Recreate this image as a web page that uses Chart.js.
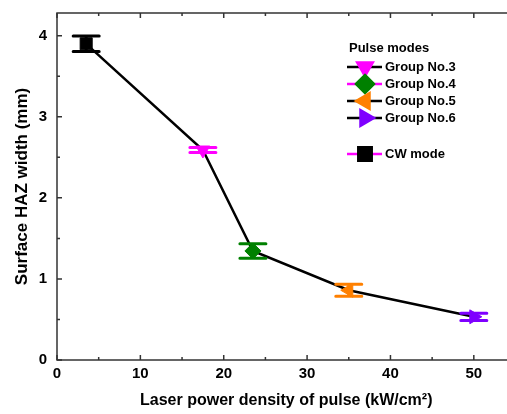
<!DOCTYPE html>
<html>
<head>
<meta charset="utf-8">
<script src="https://cdn.jsdelivr.net/npm/chart.js@4.4.1/dist/chart.umd.min.js"></script>
<style>
  html, body { margin: 0; padding: 0; background: #fff; overflow: hidden; }
  #wrap { width: 525px; height: 414px; }
</style>
</head>
<body>
<div id="wrap"><canvas id="hazChart"></canvas></div>
<script>
// --- data ---
const modeNames = ['CW mode', 'Group No.3', 'Group No.4', 'Group No.5', 'Group No.6'];
const powerDensity = [3.5, 17.5, 23.5, 35, 50];          // kW/cm^2
const hazWidth = [3.90, 2.59, 1.345, 0.86, 0.533];        // mm
const hazError = [0.095, 0.03, 0.09, 0.075, 0.045];       // mm
const markerColors = ['#000000', '#ff00ff', '#008000', '#ff8000', '#7f00ff'];
const markerStyles = ['rect', 'triangle', 'rectRot', 'triangle', 'triangle'];
const markerRotation = [0, 180, 0, -90, 90];
const markerRadius = [8.5, 8, 8, 8, 8];
const xTicks = [0, 10, 20, 30, 40, 50];
const yTicks = [0, 1, 2, 3, 4];
// legend order + line colour beside each marker
const legendOrder = [1, 2, 3, 4, 0];
const legendLineColors = ['#000000', '#ff00ff', '#000000', '#000000', '#ff00ff'];

const FONT = 'Liberation Sans, Arial, sans-serif';

// error bars (drawn with the chart scales)
const errorBars = {
    id: 'errorBars',
    afterDatasetsDraw(chart) {
        const ctx = chart.ctx;
        const xs = chart.scales.x, ys = chart.scales.y;
        ctx.save();
        ctx.lineWidth = 3;
        ctx.lineCap = 'round';
        powerDensity.forEach((x, i) => {
            const px = xs.getPixelForValue(x);
            const top = ys.getPixelForValue(hazWidth[i] + hazError[i]);
            const bot = ys.getPixelForValue(hazWidth[i] - hazError[i]);
            ctx.strokeStyle = markerColors[i];
            ctx.beginPath();
            ctx.moveTo(px, top); ctx.lineTo(px, bot);
            ctx.moveTo(px - 13, top); ctx.lineTo(px + 13, top);
            ctx.moveTo(px - 13, bot); ctx.lineTo(px + 13, bot);
            ctx.stroke();
        });
        ctx.restore();
    }
};

// frame with inward ticks on all sides
const frame = {
    id: 'frame',
    afterDraw(chart) {
        const ctx = chart.ctx;
        const a = chart.chartArea;
        const xs = chart.scales.x, ys = chart.scales.y;
        ctx.save();
        ctx.strokeStyle = '#333';
        ctx.lineWidth = 1.5;
        ctx.strokeRect(a.left, a.top, a.right - a.left, a.bottom - a.top);
        ctx.beginPath();
        for (let v = 0; v <= 55; v += 5) {
            const px = xs.getPixelForValue(v);
            const len = v % 10 === 0 ? 5 : 3;
            ctx.moveTo(px, a.bottom); ctx.lineTo(px, a.bottom - len);
            ctx.moveTo(px, a.top); ctx.lineTo(px, a.top + len);
        }
        for (let v = 0; v <= 4.25; v += 0.5) {
            const py = ys.getPixelForValue(v);
            const len = v % 1 === 0 ? 5 : 3;
            ctx.moveTo(a.left, py); ctx.lineTo(a.left + len, py);
            ctx.moveTo(a.right, py); ctx.lineTo(a.right - len, py);
        }
        ctx.stroke();
        ctx.restore();
    }
};

// legend box drawn inside the plot
const modeLegend = {
    id: 'modeLegend',
    afterDraw(chart) {
        const ctx = chart.ctx;
        const x0 = 347, lineEnd = 382, cx = 365, textX = 385;
        const rows = [67, 84, 101, 118, 154];
        ctx.save();
        ctx.font = 'bold 13px ' + FONT;
        ctx.fillStyle = '#000';
        ctx.textBaseline = 'middle';
        ctx.fillText('Pulse modes', 349, 48);
        legendOrder.forEach((idx, r) => {
            const y = rows[r];
            ctx.strokeStyle = legendLineColors[r];
            ctx.lineWidth = 2.5;
            ctx.beginPath();
            ctx.moveTo(x0, y); ctx.lineTo(lineEnd, y);
            ctx.stroke();
            ctx.fillStyle = markerColors[idx];
            ctx.strokeStyle = markerColors[idx];
            Chart.helpers.drawPoint(ctx, {
                pointStyle: markerStyles[idx],
                rotation: markerRotation[idx],
                radius: markerRadius[idx] + 1,
                borderWidth: 1
            }, cx, y);
            ctx.fillStyle = '#000';
            ctx.fillText(modeNames[idx], textX, y);
        });
        ctx.restore();
    }
};

const ctx = document.getElementById('hazChart').getContext('2d');
new Chart(ctx, {
    type: 'scatter',
    data: {
        datasets: [{
            data: powerDensity.map((x, i) => ({ x: x, y: hazWidth[i] })),
            showLine: true,
            borderColor: '#000',
            borderWidth: 2.5,
            pointStyle: markerStyles,
            pointRotation: markerRotation,
            pointRadius: markerRadius,
            pointBackgroundColor: markerColors,
            pointBorderColor: markerColors,
            pointBorderWidth: 1
        }]
    },
    options: {
        responsive: true,
        maintainAspectRatio: false,
        animation: false,
        layout: { padding: { top: 13, right: 9, left: 0, bottom: 0 } },
        plugins: { legend: { display: false }, tooltip: { enabled: false } },
        scales: {
            x: {
                type: 'linear',
                min: 0,
                max: 55,
                afterBuildTicks: (s) => { s.ticks = xTicks.map(v => ({ value: v })); },
                afterFit: (s) => { s.height = 54; },
                grid: { display: false, drawTicks: false },
                border: { display: false },
                ticks: { color: '#000', padding: 5, font: { family: FONT, size: 15, weight: 'bold' } },
                title: {
                    display: true,
                    text: 'Laser power density of pulse (kW/cm²)',
                    color: '#000',
                    padding: { top: 10 },
                    font: { family: FONT, size: 16, weight: 'bold' }
                }
            },
            y: {
                type: 'linear',
                min: 0,
                max: 4.28,
                afterBuildTicks: (s) => { s.ticks = yTicks.map(v => ({ value: v })); },
                // drop the half-label room so the plot top sits at the layout padding
                afterFit: (s) => { s.width = 57; s.paddingTop = 0; s.paddingBottom = 0; },
                grid: { display: false, drawTicks: false },
                border: { display: false },
                ticks: { color: '#000', padding: 10, font: { family: FONT, size: 15, weight: 'bold' } },
                title: {
                    display: true,
                    text: 'Surface HAZ width (mm)',
                    color: '#000',
                    padding: { top: 12, bottom: 4 },
                    font: { family: FONT, size: 17, weight: 'bold' }
                }
            }
        }
    },
    plugins: [errorBars, frame, modeLegend]
});
</script>
</body>
</html>
